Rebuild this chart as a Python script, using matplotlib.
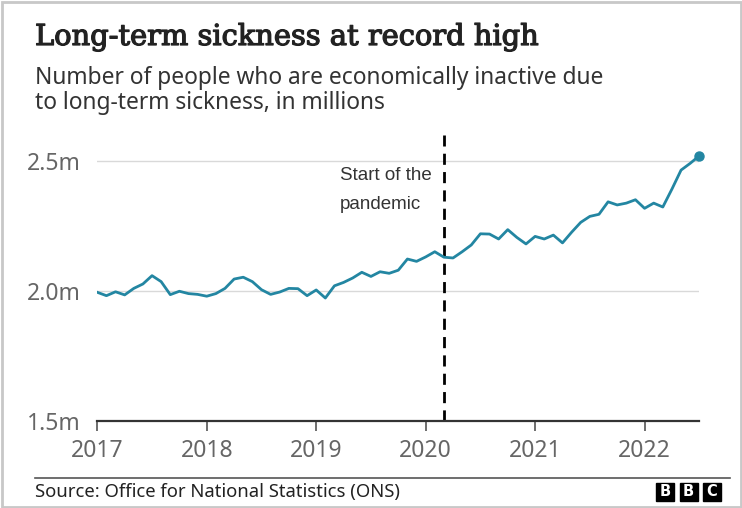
import numpy as np
import matplotlib
matplotlib.use("Agg")
import matplotlib.pyplot as plt
import matplotlib.patheffects as pe
from matplotlib.patches import Rectangle

# Economically inactive due to long-term sickness, millions, Jan 2017 - Jul 2022
values = [
    1.995, 1.982, 1.997, 1.985, 2.010, 2.027, 2.059, 2.036, 1.986, 1.999, 1.990, 1.987,  # 2017
    1.980, 1.990, 2.010, 2.046, 2.053, 2.036, 2.005, 1.987, 1.996, 2.010, 2.009, 1.982,  # 2018
    2.004, 1.973, 2.020, 2.033, 2.050, 2.072, 2.056, 2.074, 2.068, 2.080, 2.123, 2.114,  # 2019
    2.131, 2.151, 2.130, 2.127, 2.151, 2.177, 2.220, 2.219, 2.200, 2.236, 2.206, 2.181,  # 2020
    2.210, 2.200, 2.215, 2.185, 2.226, 2.264, 2.287, 2.295, 2.343, 2.331, 2.338, 2.351,  # 2021
    2.318, 2.338, 2.323, 2.392, 2.465, 2.491, 2.520,                                     # 2022
]
start_year = 2017
months = np.arange(len(values))
x = start_year + months / 12

year_ticks = [2017, 2018, 2019, 2020, 2021, 2022]
y_ticks = [1.5, 2.0, 2.5]
y_labels = ["1.5m", "2.0m", "2.5m"]
pandemic_start = 2020 + 2 / 12  # March 2020

W, H = 742, 508
LINE = "#2386a2"
GREY = "#666666"

fig = plt.figure(figsize=(W / 100, H / 100), dpi=100)
fig.patch.set_facecolor("white")

def px(xp, yp):
    return xp / W, 1 - yp / H

# plot area in pixels: left 97, right 699, baseline (1.5m) at 421
left, right, bottom = 97.3, 699.3, 421
top_val = 2.6
ppu = (421 - 161) / 1.0  # pixels per million
top = bottom - (top_val - 1.5) * ppu
ax = fig.add_axes([left / W, 1 - bottom / H, (right - left) / W, (bottom - top) / H])
ax.set_xlim(start_year, x[-1])
ax.set_ylim(1.5, top_val)

for yv in y_ticks[1:]:
    ax.axhline(yv, color="#d9d9d9", lw=1.0, zorder=1)

ax.plot(x, values, color=LINE, lw=2.0, zorder=3, solid_joinstyle="round")
ax.plot(x[-1], values[-1], "o", color=LINE, ms=6.5, zorder=4, clip_on=False)

ax.axvline(pandemic_start, color="black", lw=2.0, ls=(0, (4, 2.6)), zorder=2)
ax.text(pandemic_start - 0.95, 2.475, "Start of the\npandemic", fontsize=13.5,
        family="Liberation Sans", color="#333333", ha="left", va="top",
        linespacing=1.85)

for s in ["top", "right", "left"]:
    ax.spines[s].set_visible(False)
ax.spines["bottom"].set_color("#333333")
ax.spines["bottom"].set_linewidth(1.6)

ax.set_xticks(year_ticks)
ax.set_xticklabels([str(y) for y in year_ticks])
ax.tick_params(axis="x", direction="out", length=7, width=1.2, color="#555555",
               labelsize=16.5, labelcolor=GREY, pad=6)
ax.set_yticks(y_ticks)
ax.set_yticklabels(y_labels)
ax.tick_params(axis="y", length=0, labelsize=16.5, labelcolor=GREY, pad=12)
for lab in ax.get_xticklabels() + ax.get_yticklabels():
    lab.set_family("Noto Sans")

# headings
fig.text(*px(35, 45), "Long-term sickness at record high", family="DejaVu Serif",
         fontsize=20.8, color="#222222", va="baseline",
         path_effects=[pe.withStroke(linewidth=0.9, foreground="#222222")])
fig.text(*px(35, 84), "Number of people who are economically inactive due",
         family="Noto Sans", fontsize=16.4, color="#333333", va="baseline")
fig.text(*px(35, 109), "to long-term sickness, in millions",
         family="Noto Sans", fontsize=16.4, color="#333333", va="baseline")

# footer
fig.add_artist(plt.Line2D([35 / W, 730 / W], [1 - 477.5 / H] * 2, color="#555555",
                          lw=1.2, transform=fig.transFigure))
fig.text(*px(35, 497), "Source: Office for National Statistics (ONS)",
         family="Noto Sans", fontsize=13.3, color="#222222", va="baseline")

# BBC blocks
for i, letter in enumerate("BBC"):
    x0 = 656 + i * 23.5
    fig.add_artist(Rectangle((x0 / W, 1 - 501 / H), 18 / W, 18 / H,
                             transform=fig.transFigure, color="black"))
    fig.text((x0 + 9) / W, 1 - 492 / H, letter, color="white", fontsize=10.5,
             fontweight="bold", family="DejaVu Sans", ha="center", va="center")

# outer frame
fig.add_artist(Rectangle((1.5 / W, 1.5 / H), (W - 3) / W, (H - 3) / H,
                         transform=fig.transFigure, fill=False,
                         edgecolor="#c8c8c8", lw=2.0))

fig.savefig("out.png", dpi=100, facecolor="white")
